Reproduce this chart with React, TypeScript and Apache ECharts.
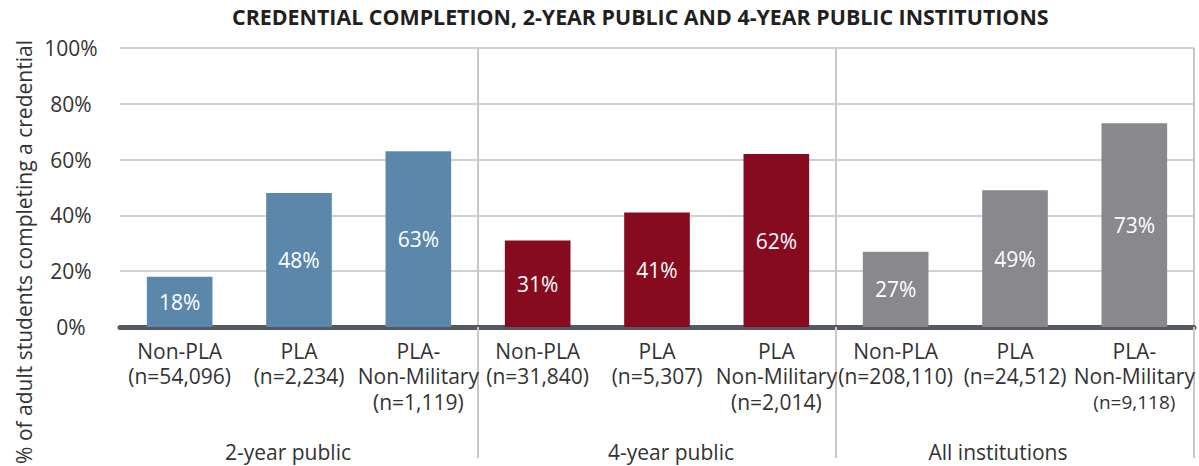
import React, { useEffect, useRef } from "react";
import * as echarts from "echarts";

const TITLE = "CREDENTIAL COMPLETION, 2-YEAR PUBLIC AND 4-YEAR PUBLIC INSTITUTIONS";
const Y_NAME = "% of adult students completing a credential";
const categories = [
  "Non-PLA\n(n=54,096)",
  "PLA\n(n=2,234)",
  "PLA-\nNon-Military\n(n=1,119)",
  "Non-PLA\n(n=31,840)",
  "PLA\n(n=5,307)",
  "PLA\nNon-Military\n(n=2,014)",
  "Non-PLA\n(n=208,110)",
  "PLA\n(n=24,512)",
  "PLA-\nNon-Military\n(n=9,118)",
];
const values = [18, 48, 63, 31, 41, 62, 27, 49, 73];
const groups = ["2-year public", "4-year public", "All institutions"];
const groupColors = ["#5b88aa", "#870b1f", "#88888d"];

const FONT = "'Open Sans', 'Noto Sans', sans-serif";
const TXT = "#333333";
const FS = 21;
const LH = 25.5;

export default function App() {
  const ref = useRef<HTMLDivElement>(null);
  useEffect(() => {
    document.body.style.margin = "0";
    const chart = echarts.init(ref.current!, undefined, { renderer: "svg" });
    const sepInterval = (i: number) => i >= 1;
    chart.setOption({
      animation: false,
      textStyle: { fontFamily: FONT },
      title: {
        text: TITLE,
        left: 232,
        top: 6,
        padding: 0,
        textStyle: { fontFamily: FONT, fontSize: 21.4, fontWeight: "bold", color: "#231f20" },
      },
      grid: { left: 120, right: 5, top: 48, bottom: 139, containLabel: false },
      xAxis: [
        {
          type: "category",
          data: categories,
          axisLine: { show: true, lineStyle: { color: "#555a61", width: 5 } },
          axisTick: { show: false },
          axisLabel: {
            interval: 0,
            margin: 11,
            fontFamily: FONT,
            fontSize: FS,
            lineHeight: LH,
            color: TXT,
            formatter: (v: string, i: number) => {
              if (i !== 8) return v;
              const parts = v.split("\n");
              return parts.map((p, j) => (j === 2 ? `{s|${p}}` : `{m|${p}}`)).join("\n");
            },
            rich: {
              m: { fontFamily: FONT, fontSize: FS, lineHeight: LH, color: TXT },
              s: { fontFamily: FONT, fontSize: 19, lineHeight: LH, color: TXT },
            },
          },
        },
        {
          type: "category",
          data: groups,
          position: "bottom",
          axisLine: { show: false },
          axisTick: {
            show: true,
            interval: sepInterval,
            length: 131,
            lineStyle: { color: "#c8c8c8", width: 2 },
          },
          splitLine: {
            show: true,
            interval: sepInterval,
            lineStyle: { color: "#c8c8c8", width: 2 },
          },
          axisLabel: {
            interval: 0,
            margin: 114,
            formatter: (v: string, i: number) => `{g${i}|${v}}`,
            rich: {
              g0: { fontFamily: FONT, fontSize: FS, color: TXT, padding: [0, 22, 0, 0] },
              g1: { fontFamily: FONT, fontSize: FS, color: TXT, padding: [0, 0, 0, 28] },
              g2: { fontFamily: FONT, fontSize: FS, color: TXT, padding: [0, 34, 0, 0] },
            },
          },
        },
      ],
      yAxis: {
        type: "value",
        min: 0,
        max: 100,
        interval: 20,
        axisLine: { show: false },
        axisTick: { show: false },
        splitLine: { show: true, lineStyle: { color: "#d0d0d0", width: 2 } },
        axisLabel: {
          formatter: "{value}%",
          align: "center",
          margin: 49,
          fontFamily: FONT,
          fontSize: FS,
          color: TXT,
          padding: [0, 0, 6, 0],
        },
      },
      graphic: [
        {
          type: "text",
          x: 24,
          y: 252,
          rotation: Math.PI / 2,
          style: {
            text: Y_NAME,
            font: `21px ${FONT}`,
            fill: TXT,
            align: "center",
            verticalAlign: "middle",
          },
        },
      ],
      series: [
        {
          type: "bar",
          xAxisIndex: 0,
          barWidth: "55%",
          data: values.map((v, i) => ({
            value: v,
            itemStyle: { color: groupColors[Math.floor(i / 3)] },
          })),
          label: {
            show: true,
            position: "inside",
            formatter: "{c}%",
            fontFamily: FONT,
            fontSize: FS,
            color: "#ffffff",
          },
        },
      ],
    });
    return () => chart.dispose();
  }, []);
  return <div ref={ref} style={{ width: 1199, height: 466 }} />;
}
